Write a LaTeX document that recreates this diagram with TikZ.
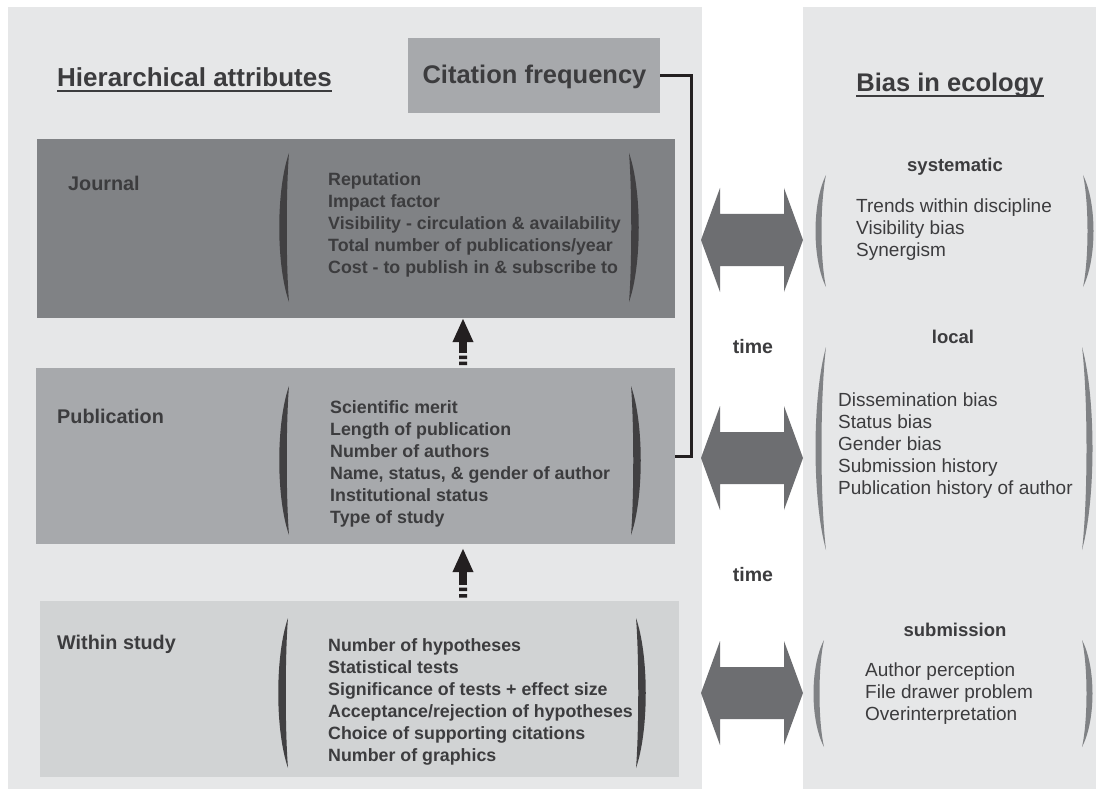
\documentclass[tikz,border=0pt]{standalone}
\usepackage{fontspec}
\setmainfont{Liberation Sans}
\usetikzlibrary{arrows.meta}
\definecolor{panel}{HTML}{E6E7E8}
\definecolor{jour}{HTML}{808285}
\definecolor{pubc}{HTML}{A7A9AC}
\definecolor{withc}{HTML}{D1D3D4}
\definecolor{txt}{HTML}{3C3C3E}
\definecolor{paren}{HTML}{414042}
\definecolor{rparen}{HTML}{808285}
\definecolor{darr}{HTML}{6D6E71}
\definecolor{blk}{HTML}{231F20}
% #1 end x, #2 top, #3 bottom, #4 colour, #5 outer offset, #6 inner offset
\newcommand\myLpar[6]{%
  \pgfmathsetmacro\pa{#2+0.25*(#3-#2)}%
  \pgfmathsetmacro\pb{#3-0.25*(#3-#2)}%
  \fill[#4] (#1,#2) .. controls (#1-#5,\pa) and (#1-#5,\pb) .. (#1,#3)
     .. controls (#1-#6,\pb) and (#1-#6,\pa) .. (#1,#2) -- cycle;}
\newcommand\myRpar[6]{%
  \pgfmathsetmacro\pa{#2+0.25*(#3-#2)}%
  \pgfmathsetmacro\pb{#3-0.25*(#3-#2)}%
  \fill[#4] (#1,#2) .. controls (#1+#5,\pa) and (#1+#5,\pb) .. (#1,#3)
     .. controls (#1+#6,\pb) and (#1+#6,\pa) .. (#1,#2) -- cycle;}
\newcommand\myDbl[1]{%
  \fill[darr] (701,#1) -- (720,#1-52) -- (720,#1-26) -- (784,#1-26) -- (784,#1-52)
    -- (803,#1) -- (784,#1+52) -- (784,#1+26) -- (720,#1+26) -- (720,#1+52) -- cycle;}
\begin{document}
\begin{tikzpicture}[x=1pt,y=-1pt,
  box/.style={inner sep=0pt, outer sep=0pt, draw=none, anchor=north west},
  head/.style={inner sep=0pt, text=txt, font=\bfseries\fontsize{25.5pt}{30pt}\selectfont, anchor=base},
  lab/.style={inner sep=0pt, text=txt, font=\bfseries\fontsize{19.8pt}{24pt}\selectfont, anchor=base west},
  items/.style={inner sep=0pt, text=txt, font=\bfseries\fontsize{17.8pt}{22pt}\selectfont, align=left, anchor=north west},
  ritems/.style={inner sep=0pt, text=txt, font=\fontsize{19pt}{22pt}\selectfont, align=left, anchor=north west},
  rhead/.style={inner sep=0pt, text=txt, font=\bfseries\fontsize{18.5pt}{22pt}\selectfont, anchor=base},
  upar/.style={line width=8pt, blk, -{Triangle[width=19pt,length=24pt]}},
  uline/.style={line width=2pt, txt}
]
\useasboundingbox (0,0) rectangle (1096,789);
\fill[white] (0,0) rectangle (1096,789);
% panels
\node[box, fill=panel, minimum width=694pt, minimum height=782pt] (leftpanel) at (8,7) {};
\node[box, fill=panel, minimum width=293pt, minimum height=782pt] (rightpanel) at (803,7) {};
% boxes
\node[box, fill=pubc, minimum width=252pt, minimum height=75pt] (cit) at (408,38) {};
\node[box, fill=jour, minimum width=638pt, minimum height=179pt] (journal) at (37,139) {};
\node[box, fill=pubc, minimum width=639pt, minimum height=176pt] (pub) at (36,368) {};
\node[box, fill=withc, minimum width=639pt, minimum height=176pt] (within) at (40,601) {};
% headings
\node[head, anchor=base west, font=\bfseries\fontsize{26pt}{30pt}\selectfont] (hier) at (57,87) {Hierarchical attributes};
\draw[uline] ([yshift=-4pt]hier.base west) -- ([yshift=-4pt]hier.base east);
\node[head] (citt) at (534.5,84) {Citation frequency};
\node[head] (bias) at (950,92) {Bias in ecology};
\draw[uline] ([yshift=-4pt]bias.base west) -- ([yshift=-4pt]bias.base east);
% bracket connector
\coordinate (brk) at (691,456);
\draw[line width=3pt, blk] (cit.east) -| (brk) -- (pub.east);
% left labels
\node[lab] (jl) at (68,190) {Journal};
\node[lab] (pl) at (57,423) {Publication};
\node[lab] (wl) at (57,649) {Within study};
% left items
\node[items] (ji) at (328,172) {Reputation\\Impact factor\\Visibility - circulation \& availability\\Total number of publications/year\\Cost - to publish in \& subscribe to};
\node[items] (pi) at (330,400) {Scientific merit\\Length of publication\\Number of authors\\Name, status, \& gender of author\\Institutional status\\Type of study};
\node[items] (wi) at (328,638) {Number of hypotheses\\Statistical tests\\Significance of tests + effect size\\Acceptance/rejection of hypotheses\\Choice of supporting citations\\Number of graphics};
% left parens
\myLpar{289}{153}{302}{paren}{13}{3}\myRpar{629}{153}{302}{paren}{13}{3}
\myLpar{289}{386}{535}{paren}{13}{3}\myRpar{631}{386}{535}{paren}{13}{3}
\myLpar{288}{618}{768}{paren}{13}{3}\myRpar{636}{618}{768}{paren}{13}{3}
% up arrows
\coordinate (a1b) at (463,353); \coordinate (a1t) at (463,318);
\coordinate (a2b) at (463,585); \coordinate (a2t) at (463,548);
\draw[upar] (a1b) -- (a1t);
\fill[blk] (459,355.5) rectangle (467,359) (459,361.5) rectangle (467,365);
\draw[upar] (a2b) -- (a2t);
\fill[blk] (459,587.5) rectangle (467,591) (459,594) rectangle (467,597.5);
% double arrows
\myDbl{240}\myDbl{458}\myDbl{693}
% time
\node[rhead, font=\bfseries\fontsize{19.5pt}{22pt}\selectfont] (t1) at (753,353) {time};
\node[rhead, font=\bfseries\fontsize{19.5pt}{22pt}\selectfont] (t2) at (753,581) {time};
% right sections
\node[rhead] (sys) at (955,172) {systematic};
\node[ritems] (sysi) at (856,199) {Trends within discipline\\Visibility bias\\Synergism};
\myLpar{826}{175}{287}{rparen}{14}{6}\myRpar{1083}{175}{287}{rparen}{14}{6}
\node[rhead] (loc) at (953,343) {local};
\node[ritems] (loci) at (838,393) {Dissemination bias\\Status bias\\Gender bias\\Submission history\\Publication history of author};
\myLpar{826}{347}{550}{rparen}{14}{6}\myRpar{1082}{347}{550}{rparen}{14}{6}
\node[rhead] (sub) at (955,636) {submission};
\node[ritems] (subi) at (865,663) {Author perception\\File drawer problem\\Overinterpretation};
\myLpar{824}{640}{747}{rparen}{14}{6}\myRpar{1082}{640}{747}{rparen}{14}{6}
\end{tikzpicture}
\end{document}
